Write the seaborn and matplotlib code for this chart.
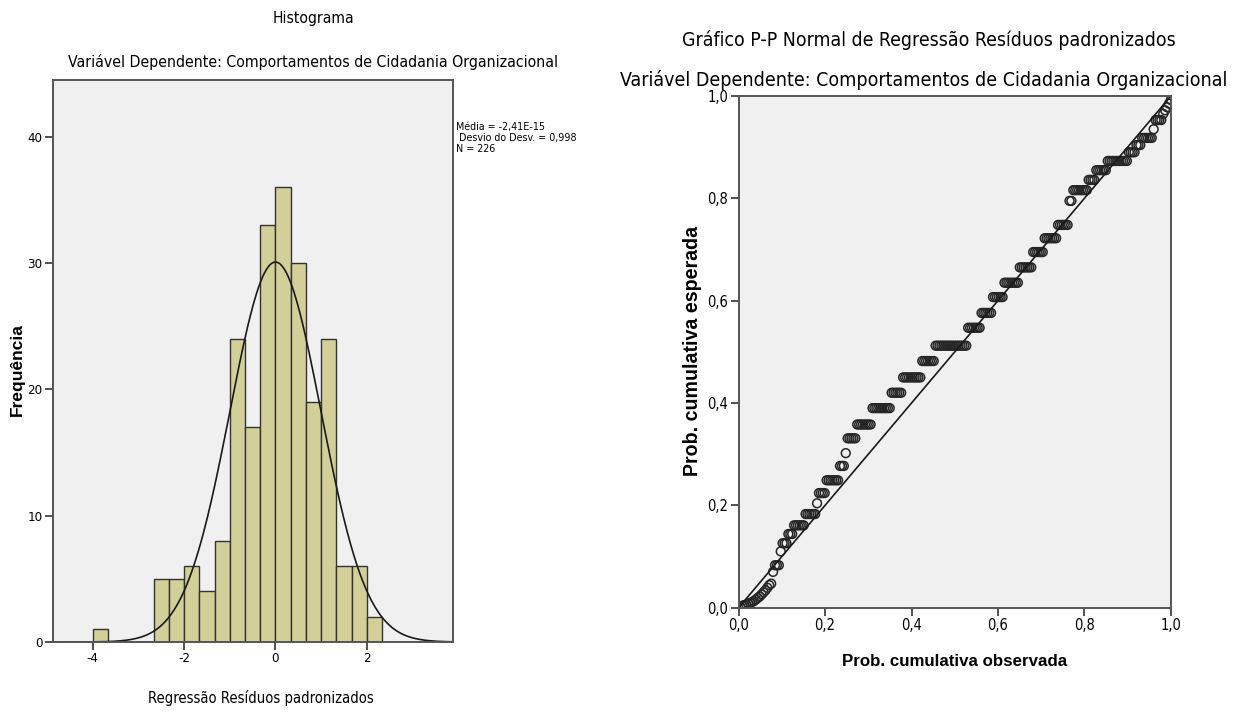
import numpy as np
import pandas as pd
import matplotlib
matplotlib.use("Agg")
import matplotlib.pyplot as plt
import seaborn as sns

# ---------------- data ----------------
# Histogram of standardized residuals (bin edges and counts)
hist_edges = [-4.0, -3.667, -3.333, -3.0, -2.667, -2.333, -2.0, -1.667, -1.333,
              -1.0, -0.667, -0.333, 0.0, 0.333, 0.667, 1.0, 1.333, 1.667, 2.0, 2.333]
hist_counts = [1, 0, 0, 0, 5, 5, 6, 4, 8, 24, 17, 33, 36, 30, 19, 24, 6, 6, 2]
res_mean = -2.41e-15
res_sd = 0.998
n_obs = 226
hist_xticks = [-4, -2, 0, 2]
hist_yticks = [0, 10, 20, 30, 40]

# P-P plot: expected cumulative probability levels and number of (tied) points at each level
pp_levels = [0.0001, 0.004, 0.005, 0.006, 0.008, 0.009, 0.011, 0.013, 0.016, 0.019,
             0.022, 0.026, 0.030, 0.034, 0.039, 0.044, 0.047,
             0.070, 0.083, 0.110, 0.126, 0.144, 0.161, 0.183, 0.204, 0.224, 0.249,
             0.277, 0.302, 0.331, 0.358, 0.390, 0.420, 0.450, 0.482, 0.512, 0.547,
             0.576, 0.607, 0.635, 0.665, 0.695, 0.722, 0.748, 0.795, 0.816, 0.836,
             0.855, 0.873, 0.890, 0.904, 0.918, 0.935, 0.953,
             0.965, 0.972, 0.978, 0.985, 0.992]
pp_counts = [1] * 17 + [1, 3, 1, 3, 3, 6, 6, 1, 4, 7,
                        3, 1, 5, 8, 10, 6, 10, 7, 17, 7,
                        6, 6, 8, 7, 6, 7, 6, 2, 8, 4,
                        6, 11, 4, 3, 6, 1, 4,
                        1, 1, 1, 1, 1]
diag = [0.0, 1.0]
pp_ticks = [0.0, 0.2, 0.4, 0.6, 0.8, 1.0]
pp_ticklabels = ["0,0", "0,2", "0,4", "0,6", "0,8", "1,0"]

# ---------------- style ----------------
sns.set_theme(style="white")
plt.rcParams['font.family'] = ['DejaVu Sans']
plt.rcParams['font.stretch'] = 'condensed'
plt.rcParams['text.color'] = 'black'
plt.rcParams['xtick.color'] = 'black'
plt.rcParams['ytick.color'] = 'black'
bold_family = ['Liberation Sans', 'DejaVu Sans']

bg = '#F0F0F0'
bar_color = '#D3CF98'
edge_dark = '#333333'

fig = plt.figure(figsize=(12.41, 7.13), dpi=100)
renderer = fig.canvas.get_renderer()


def fit_width(txt, target_px, vertical=False):
    """Scale font size so the text spans target_px pixels."""
    bb = txt.get_window_extent(renderer)
    cur = bb.height if vertical else bb.width
    txt.set_fontsize(txt.get_fontsize() * target_px / cur)


# ---------------- histogram ----------------
ax1 = fig.add_axes([0.0427, 0.0996, 0.3221, 0.7882])
ax1.set_facecolor(bg)
edges = np.array(hist_edges)
centers = (edges[:-1] + edges[1:]) / 2
hdf = pd.DataFrame({"res": centers, "n": hist_counts})
sns.histplot(data=hdf, x="res", weights="n", bins=list(hist_edges), ax=ax1,
             color=bar_color, edgecolor=edge_dark, linewidth=1.0, alpha=1.0)

xlim = (-4.87, 3.88)
bw = edges[1] - edges[0]
xs = np.linspace(xlim[0], xlim[1], 400)
ys = n_obs * bw * np.exp(-0.5 * ((xs - res_mean) / res_sd) ** 2) / (res_sd * np.sqrt(2 * np.pi))
sns.lineplot(x=xs, y=ys, ax=ax1, color='#1a1a1a', linewidth=1.2)

ax1.set_xlim(*xlim)
ax1.set_ylim(0, 44.5)
ax1.set_xticks(hist_xticks)
ax1.set_xticklabels([str(t) if t >= 0 else "-" + str(-t) for t in hist_xticks])
ax1.set_yticks(hist_yticks)
ax1.set_xlabel("")
ax1.set_ylabel("")
ax1.tick_params(direction='out', length=6, width=1.2, color=edge_dark,
                labelsize=9.5, pad=1.5, bottom=True, left=True)
for s in ax1.spines.values():
    s.set_visible(True)
    s.set_color('#555555')
    s.set_linewidth(1.4)

ann = ax1.text(1.008, 0.925, "Média = -2,41E-15\n Desvio do Desv. = 0,998\nN = 226",
               transform=ax1.transAxes, fontsize=9, va='top', ha='left', linespacing=1.1)
fit_width(ann, 122)

t = fig.text(313 / 1241, 1 - 18 / 713, "Histograma", ha='center', va='center', fontsize=13)
fit_width(t, 82)
t = fig.text(313 / 1241, 1 - 62 / 713, "Variável Dependente: Comportamentos de Cidadania Organizacional",
             ha='center', va='center', fontsize=13.5)
fit_width(t, 486)
t = fig.text(261 / 1241, 1 - 698 / 713, "Regressão Resíduos padronizados",
             ha='center', va='center', fontsize=12.5)
fit_width(t, 227)
t = fig.text(17 / 1241, 1 - 370 / 713, "Frequência", ha='center', va='center', rotation=90,
             fontsize=11, fontweight='bold', family=bold_family, fontstretch='normal')
fit_width(t, 93, vertical=True)

# ---------------- P-P plot ----------------
ax2 = fig.add_axes([0.5952, 0.1477, 0.3483, 0.7177])
ax2.set_facecolor(bg)
exp_prob = np.repeat(pp_levels, pp_counts)
obs_prob = np.arange(1, len(exp_prob) + 1) / len(exp_prob)
pdf = pd.DataFrame({"obs": obs_prob, "exp": exp_prob})
sns.lineplot(x=diag, y=diag, ax=ax2, color='#1a1a1a', linewidth=1.2)
sns.scatterplot(data=pdf, x="obs", y="exp", ax=ax2, marker='o', s=40,
                facecolors='none', edgecolor='#262626', linewidth=1.1)
ax2.set_xlim(0, 1)
ax2.set_ylim(0, 1)
ax2.set_xticks(pp_ticks)
ax2.set_xticklabels(pp_ticklabels)
ax2.set_yticks(pp_ticks)
ax2.set_yticklabels(pp_ticklabels)
ax2.set_xlabel("")
ax2.set_ylabel("")
ax2.tick_params(direction='out', length=6, width=1.2, color=edge_dark,
                labelsize=10.5, pad=1.5, bottom=True, left=True)
for s in ax2.spines.values():
    s.set_visible(True)
    s.set_color('#555555')
    s.set_linewidth(1.4)

t = fig.text(929 / 1241, 1 - 40 / 713, "Gráfico P-P Normal de Regressão Resíduos padronizados",
             ha='center', va='center', fontsize=13.5)
fit_width(t, 493)
t = fig.text(924 / 1241, 1 - 80 / 713, "Variável Dependente: Comportamentos de Cidadania Organizacional",
             ha='center', va='center', fontsize=13.5)
fit_width(t, 604)
t = fig.text(955 / 1241, 1 - 661 / 713, "Prob. cumulativa observada", ha='center', va='center',
             fontsize=11, fontweight='bold', family=bold_family, fontstretch='normal')
fit_width(t, 226)
t = fig.text(693 / 1241, 1 - 351 / 713, "Prob. cumulativa esperada", ha='center', va='center',
             rotation=90, fontsize=11, fontweight='bold', family=bold_family, fontstretch='normal')
fit_width(t, 250, vertical=True)

fig.savefig("out.png", dpi=100, facecolor='white')
